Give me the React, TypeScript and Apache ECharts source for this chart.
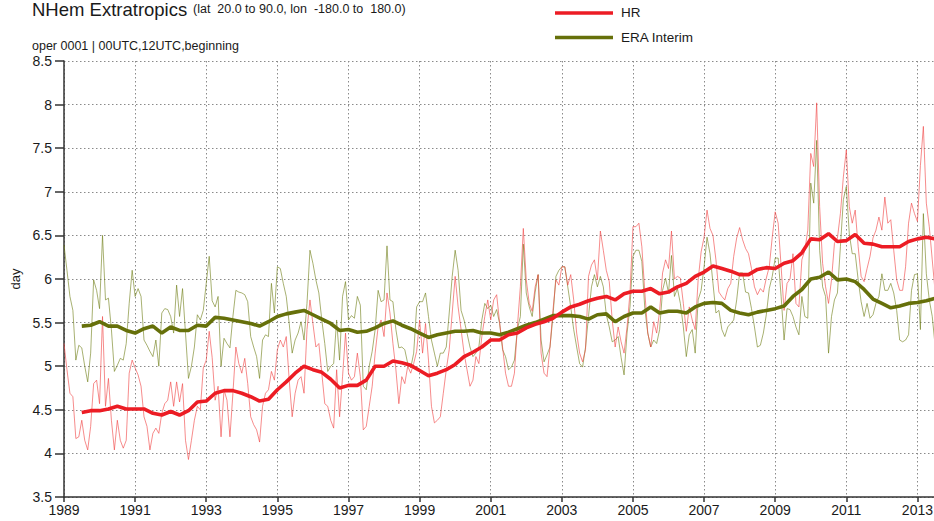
import React, { useEffect, useRef } from "react";
import * as echarts from "echarts";

// Monthly values, starting January 1989 (one value per month)
const hrMonthly: number[] = [
  5.26, 4.96, 4.69, 4.65, 4.17, 4.19, 4.38, 4.15, 4.04, 4.31, 4.80, 4.84,
  4.57, 5.57, 4.54, 4.86, 4.38, 4.04, 4.38, 4.15, 4.06, 4.15, 4.92, 5.07,
  4.98, 4.90, 4.77, 4.42, 4.31, 4.04, 4.23, 4.29, 4.23, 4.46, 4.57, 4.61,
  4.82, 4.54, 4.82, 4.59, 4.80, 4.15, 3.93, 4.15, 4.38, 4.54, 4.50, 4.98,
  5.07, 5.40, 5.10, 4.61, 4.77, 4.19, 4.73, 4.61, 4.19, 4.69, 5.22, 5.03,
  4.92, 5.09, 4.80, 4.42, 4.33, 4.27, 4.13, 4.54, 4.69, 4.73, 4.94, 4.84,
  5.19, 5.30, 5.22, 5.34, 4.84, 4.42, 4.69, 4.84, 4.88, 4.69, 5.42, 5.76,
  5.49, 5.22, 5.26, 4.92, 4.57, 4.54, 4.38, 4.29, 4.96, 4.42, 4.88, 5.38,
  4.92, 4.84, 4.88, 5.15, 4.88, 4.27, 4.31, 4.54, 4.77, 5.15, 5.45, 5.53,
  5.34, 5.84, 5.61, 5.26, 4.96, 4.57, 4.88, 4.80, 5.00, 4.92, 5.03, 5.17,
  5.53, 5.15, 5.49, 5.07, 4.54, 4.35, 4.38, 4.42, 4.69, 4.96, 5.19, 5.61,
  6.03, 5.68, 5.42, 5.15, 4.96, 4.77, 4.84, 5.11, 5.03, 5.34, 5.57, 5.76,
  5.53, 5.76, 5.82, 5.50, 5.22, 4.92, 4.77, 4.77, 4.92, 5.45, 5.91, 6.58,
  5.99, 5.72, 5.63, 5.91, 6.05, 5.15, 4.92, 4.88, 5.22, 5.64, 5.99, 5.93,
  6.14, 6.14, 5.93, 6.05, 5.76, 5.38, 5.15, 5.05, 5.19, 6.03, 6.16, 6.22,
  5.99, 6.55, 6.33, 6.10, 5.97, 5.53, 5.22, 5.45, 5.28, 5.15, 5.45, 5.84,
  6.60, 6.60, 6.64, 6.37, 5.85, 5.38, 5.22, 5.51, 5.38, 5.63, 6.07, 6.22,
  6.12, 6.55, 6.00, 6.03, 6.01, 5.72, 5.40, 5.68, 5.53, 5.42, 5.99, 6.31,
  6.48, 6.79, 6.58, 6.50, 6.22, 5.85, 5.80, 5.76, 5.89, 5.95, 6.26, 6.47,
  6.59, 6.45, 6.35, 6.29, 6.12, 5.91, 5.82, 5.89, 5.85, 6.01, 6.14, 6.48,
  6.77, 6.64, 6.14, 5.64, 5.95, 6.00, 6.29, 5.72, 5.68, 6.22, 6.33, 6.56,
  7.44, 7.29, 8.02, 6.83, 6.18, 5.91, 5.72, 5.99, 6.41, 6.47, 6.75, 7.17,
  7.48, 6.83, 6.64, 6.79, 6.37, 6.03, 5.97, 6.12, 6.26, 6.47, 6.56, 6.71,
  6.56, 6.94, 6.64, 6.68, 6.33, 5.99, 5.87, 5.87, 6.14, 6.64, 6.87, 6.75,
  6.66, 7.30, 7.75, 6.87, 6.60, 6.22, 5.84,
];

const eraMonthly: number[] = [
  6.39, 6.10, 5.80, 5.64, 5.07, 5.24, 5.21, 5.00, 4.82, 5.15, 5.99, 5.87,
  5.66, 6.50, 5.76, 5.78, 5.42, 4.94, 5.01, 5.09, 5.07, 5.26, 5.72, 6.10,
  5.80, 5.89, 5.80, 5.30, 5.24, 5.17, 5.11, 5.30, 5.00, 5.61, 5.66, 5.65,
  5.57, 5.38, 5.93, 5.57, 5.89, 5.38, 4.86, 5.00, 5.22, 5.59, 5.53, 5.64,
  5.95, 6.26, 5.75, 5.68, 5.80, 5.00, 5.32, 5.26, 5.21, 5.57, 5.87, 5.85,
  5.84, 5.82, 5.74, 5.34, 5.22, 5.11, 4.86, 5.30, 5.36, 5.34, 5.95, 5.61,
  6.14, 6.12, 5.95, 5.80, 5.49, 5.15, 5.30, 5.38, 5.51, 5.30, 5.72, 6.33,
  6.18, 5.99, 5.84, 5.53, 5.26, 4.94, 5.00, 5.03, 5.53, 5.07, 5.80, 5.97,
  5.53, 5.58, 5.55, 5.80, 5.70, 4.77, 4.73, 5.00, 5.17, 5.42, 5.87, 5.74,
  5.76, 6.38, 5.76, 5.74, 5.42, 5.21, 5.22, 5.19, 5.03, 4.98, 5.15, 5.68,
  5.74, 5.74, 5.84, 5.57, 5.30, 5.15, 5.00, 5.15, 5.15, 5.22, 5.61, 6.03,
  6.33, 6.10, 5.64, 5.53, 5.38, 5.22, 5.11, 5.15, 5.22, 5.53, 5.72, 5.66,
  5.70, 5.57, 5.65, 5.49, 5.19, 5.11, 4.96, 4.99, 5.07, 5.42, 5.57, 6.40,
  5.84, 5.68, 5.57, 5.85, 6.05, 5.30, 5.05, 5.13, 5.22, 5.57, 6.03, 6.10,
  6.14, 6.14, 5.91, 5.68, 5.42, 5.22, 5.03, 4.99, 5.22, 5.57, 5.91, 6.05,
  5.91, 6.03, 5.91, 5.59, 5.45, 5.28, 5.30, 5.34, 5.10, 4.90, 5.38, 5.68,
  6.26, 6.33, 6.33, 6.20, 5.66, 5.38, 5.22, 5.30, 5.26, 5.42, 5.87, 6.01,
  5.84, 6.27, 5.80, 5.89, 5.72, 5.45, 5.11, 5.36, 5.42, 5.15, 5.76, 5.87,
  6.14, 6.48, 6.29, 5.95, 5.61, 5.64, 5.42, 5.34, 5.45, 5.49, 5.53, 5.76,
  6.07, 6.07, 5.85, 5.84, 5.66, 5.45, 5.22, 5.24, 5.38, 5.59, 5.89, 6.03,
  6.24, 6.24, 5.80, 5.30, 5.66, 5.65, 5.57, 5.45, 5.36, 5.80, 5.57, 5.55,
  7.10, 6.87, 7.59, 6.33, 5.91, 5.80, 5.15, 5.57, 5.76, 5.84, 6.37, 6.91,
  7.06, 6.52, 6.29, 6.29, 5.99, 5.74, 5.57, 5.72, 5.55, 5.59, 5.72, 5.80,
  6.06, 5.87, 5.87, 5.95, 5.84, 5.64, 5.30, 5.28, 5.30, 5.36, 5.87, 6.05,
  6.06, 5.42, 6.75, 6.06, 5.76, 5.57, 5.22,
];

// 12-month running means, sampled every 3 months starting July 1989
const hrMean: number[] = [
  4.47, 4.49, 4.49, 4.51, 4.54, 4.51, 4.51, 4.51, 4.46, 4.44,
  4.48, 4.44, 4.49, 4.59, 4.60, 4.69, 4.72, 4.72, 4.69, 4.65,
  4.60, 4.62, 4.73, 4.82, 4.92, 5.00, 4.96, 4.93, 4.85, 4.75,
  4.78, 4.78, 4.84, 5.00, 5.00, 5.06, 5.04, 5.01, 4.95, 4.89,
  4.92, 4.96, 5.02, 5.11, 5.16, 5.22, 5.30, 5.30, 5.36, 5.38,
  5.44, 5.48, 5.51, 5.55, 5.62, 5.68, 5.71, 5.75, 5.78, 5.80,
  5.76, 5.83, 5.86, 5.86, 5.89, 5.83, 5.85, 5.91, 5.95, 6.03,
  6.08, 6.15, 6.12, 6.09, 6.05, 6.05, 6.11, 6.13, 6.12, 6.18,
  6.21, 6.30, 6.46, 6.45, 6.52, 6.43, 6.44, 6.51, 6.41, 6.40,
  6.37, 6.37, 6.37, 6.43, 6.46, 6.48, 6.46,
];

const eraMean: number[] = [
  5.46, 5.47, 5.51, 5.46, 5.46, 5.41, 5.38, 5.43, 5.46, 5.38,
  5.45, 5.41, 5.41, 5.47, 5.46, 5.56, 5.55, 5.53, 5.51, 5.49,
  5.46, 5.51, 5.57, 5.60, 5.62, 5.64, 5.59, 5.54, 5.49, 5.41,
  5.42, 5.39, 5.40, 5.44, 5.49, 5.52, 5.47, 5.43, 5.38, 5.33,
  5.36, 5.38, 5.40, 5.40, 5.41, 5.38, 5.38, 5.36, 5.39, 5.43,
  5.47, 5.50, 5.54, 5.58, 5.58, 5.58, 5.57, 5.54, 5.59, 5.60,
  5.51, 5.57, 5.61, 5.61, 5.68, 5.61, 5.63, 5.63, 5.61, 5.68,
  5.72, 5.73, 5.72, 5.64, 5.61, 5.59, 5.62, 5.64, 5.66, 5.69,
  5.80, 5.88, 6.00, 6.02, 6.08, 5.99, 6.00, 5.97, 5.88, 5.77,
  5.72, 5.67, 5.69, 5.72, 5.73, 5.75, 5.78,
];

const startYear = 1989;
const meanStartMonth = 6;
const meanStepMonths = 3;

const seriesNames = ["HR", "ERA Interim"];
const yTickMin = 3.5;
const yTickMax = 8.5;
const yTickStep = 0.5;
const xTickStep = 2;
const xAxisEnd = 2014;

const titleText = "NHem Extratropics";
const titleDetail = "(lat  20.0 to 90.0, lon  -180.0 to  180.0)";
const subtitleText = "oper 0001 | 00UTC,12UTC,beginning";
const yAxisName = "day";

const RED = "#ec1c24";
const OLIVE = "#66700a";
const RED_THIN = "rgba(240,70,70,0.62)";
const OLIVE_THIN = "rgba(110,125,20,0.6)";
const FONT = '"Liberation Sans", Arial, sans-serif';

const monthly = (vals: number[]) => vals.map((v, i) => [startYear + i / 12, v]);
const means = (vals: number[]) =>
  vals.map((v, i) => [startYear + (meanStartMonth + i * meanStepMonths) / 12, v]);

export default function App() {
  const ref = useRef<HTMLDivElement>(null);

  useEffect(() => {
    if (!ref.current) return;
    const chart = echarts.init(ref.current, undefined, { renderer: "svg" });
    const txt = (text: string, x: number, y: number, size: number) => ({
      type: "text",
      x,
      y,
      silent: true,
      style: {
        text,
        fill: "#1a1a1a",
        font: `${size}px ${FONT}`,
        verticalAlign: "middle",
        align: "left",
      },
    });
    chart.setOption({
      animation: false,
      backgroundColor: "#ffffff",
      textStyle: { fontFamily: FONT },
      grid: {
        left: 64,
        right: -19,
        top: 61,
        bottom: 24,
        containLabel: false,
        outerBoundsMode: "none",
      },
      xAxis: {
        type: "value",
        min: startYear,
        max: xAxisEnd,
        interval: xTickStep,
        axisLine: { show: true, lineStyle: { color: "#333", width: 1.5 } },
        axisTick: { show: true, length: 5, lineStyle: { color: "#333", width: 1.5 } },
        axisLabel: {
          color: "#1a1a1a",
          fontSize: 14,
          margin: 6,
          formatter: (v: number) =>
            Number.isInteger(v) && (v - startYear) % xTickStep === 0 ? String(v) : "",
        },
        splitLine: {
          show: true,
          lineStyle: { color: "#8a8a8a", width: 1, type: [1.5, 2.5] },
        },
      },
      yAxis: {
        type: "value",
        min: yTickMin,
        max: yTickMax,
        interval: yTickStep,
        name: yAxisName,
        nameLocation: "middle",
        nameGap: 40,
        nameRotate: 90,
        nameTextStyle: { color: "#1a1a1a", fontSize: 13 },
        axisLine: { show: true, lineStyle: { color: "#333", width: 1.5 } },
        axisTick: { show: true, length: 9, lineStyle: { color: "#333", width: 1.5 } },
        axisLabel: { color: "#1a1a1a", fontSize: 14, margin: 12 },
        splitLine: {
          show: true,
          lineStyle: { color: "#8a8a8a", width: 1, type: [1.5, 2.5] },
        },
      },
      series: [
        {
          name: seriesNames[1] + " monthly",
          type: "line",
          data: monthly(eraMonthly),
          showSymbol: false,
          symbol: "none",
          lineStyle: { color: OLIVE_THIN, width: 1 },
          z: 2,
        },
        {
          name: seriesNames[0] + " monthly",
          type: "line",
          data: monthly(hrMonthly),
          showSymbol: false,
          symbol: "none",
          lineStyle: { color: RED_THIN, width: 1 },
          z: 3,
        },
        {
          name: seriesNames[1],
          type: "line",
          data: means(eraMean),
          showSymbol: false,
          symbol: "none",
          lineStyle: { color: OLIVE, width: 3.6 },
          z: 4,
        },
        {
          name: seriesNames[0],
          type: "line",
          data: means(hrMean),
          showSymbol: false,
          symbol: "none",
          lineStyle: { color: RED, width: 3.6 },
          z: 5,
        },
      ],
      graphic: [
        txt(titleText, 32, 9.4, 18.5),
        txt(titleDetail, 193, 9.2, 12.5),
        txt(subtitleText, 32, 45.7, 12.5),
        {
          type: "line",
          silent: true,
          shape: { x1: 555, y1: 13, x2: 613, y2: 13 },
          style: { stroke: RED, lineWidth: 3.6 },
        },
        txt(seriesNames[0], 621, 12.6, 13.5),
        {
          type: "line",
          silent: true,
          shape: { x1: 555, y1: 37.5, x2: 613, y2: 37.5 },
          style: { stroke: OLIVE, lineWidth: 3.6 },
        },
        txt(seriesNames[1], 621, 37.6, 13.5),
      ],
    });
    return () => chart.dispose();
  }, []);

  return (
    <div
      ref={ref}
      style={{ position: "absolute", left: 0, top: 0, width: 934, height: 521, background: "#fff" }}
    />
  );
}
